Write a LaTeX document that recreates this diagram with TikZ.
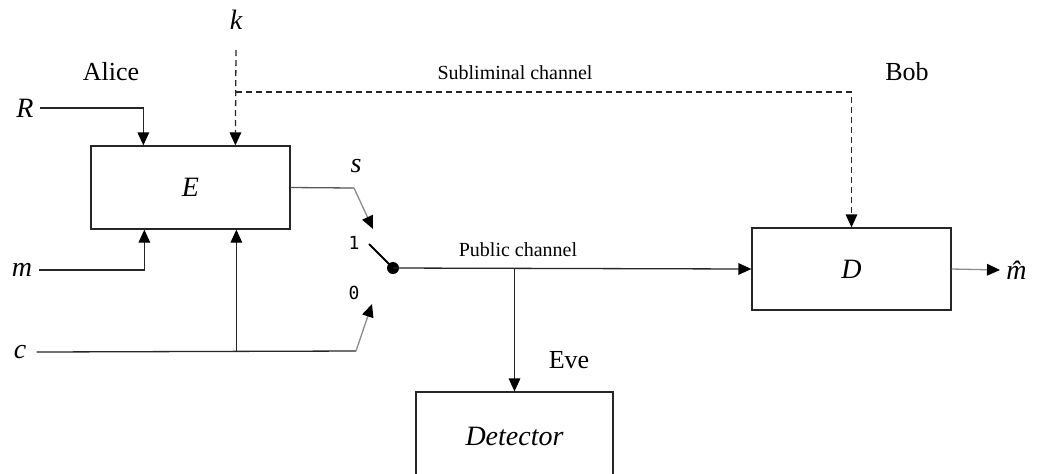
\documentclass[tikz,border=0pt]{standalone}
\usepackage{fontspec}
\setmainfont{Liberation Serif}
\newfontfamily\digitfont{DejaVu Sans Mono}
\usetikzlibrary{arrows.meta}
\begin{document}
\begin{tikzpicture}[x=0.5pt,y=-0.5pt,
  wire/.style={draw=black!85, line width=0.65pt},
  faint/.style={draw=black!45, line width=0.65pt},
  arr/.style={-{Triangle[length=6.5pt,width=5.8pt,color=black]}},
  blockbox/.style={draw=black!85, line width=0.65pt, minimum width=99.5pt, inner sep=0pt},
  mathlbl/.style={font=\fontsize{14}{16}\selectfont\itshape, inner sep=0pt},
  personlbl/.style={font=\fontsize{13}{15}\selectfont, inner sep=0pt},
  chanlbl/.style={font=\fontsize{10}{12}\selectfont, inner sep=0pt},
  contactlbl/.style={font=\fontsize{9}{11}\selectfont\digitfont, inner sep=0pt},
  dashline/.style={dash pattern=on 3pt off 2pt}]
\clip (0,0) rectangle (1042,473);
\fill[white] (0,0) rectangle (1042,473);

% processing blocks
\node[blockbox, minimum height=41.5pt, mathlbl] (E) at (190.5,187.5) {E};
\node[blockbox, minimum height=41pt, mathlbl] (D) at (851.5,269) {D};
\node[blockbox, minimum width=98.5pt, minimum height=44pt, mathlbl] (Det) at (514.5,436) {Detector};

% inputs and output
\node[mathlbl] (R) at (25,108) {R};
\node[mathlbl] (k) at (236,20) {k};
\node[mathlbl] (m) at (22,270) {m};
\node[mathlbl] (c) at (20,352) {c};
\node[mathlbl] (s) at (356,166) {s};
\node[mathlbl, anchor=west] (mh) at (1006,270) {\^{m}};

% party and channel names
\node[personlbl] (alice) at (111,72) {Alice};
\node[personlbl] (bob) at (907,72) {Bob};
\node[personlbl] (eve) at (569,360) {Eve};
\node[chanlbl] (sub) at (515,73) {Subliminal channel};
\node[chanlbl] (pub) at (518,250) {Public channel};

% switch contacts
\node[contactlbl] (one) at (354,243) {1};
\node[contactlbl] (zero) at (354,293) {0};
\node[circle, fill=black, inner sep=0pt, minimum size=6pt] (dot) at (393,268) {};
\coordinate (blade) at (369,244);
\coordinate (sbend) at (354,188);
\coordinate (stip) at (373,229);
\coordinate (cbend) at (356,351);
\coordinate (ctip) at (372,304);
\coordinate (kbend) at (236,92);

% inputs of E
\coordinate (rin) at ([xshift=26.5pt]E.north west);
\coordinate (kin) at ([xshift=72.5pt]E.north west);
\coordinate (min) at ([xshift=27pt]E.south west);
\coordinate (cin) at ([xshift=73pt]E.south west);

\draw[wire, arr] ([xshift=3pt]R.east) -| (rin);
\draw[wire, arr, dashline] ([yshift=-10pt]k.south) -- (kin);
\draw[wire, arr, dashline] (kbend) -| (D.north);
\draw[wire, arr] ([xshift=3pt]m.east) -| (min);
\draw[wire] ([xshift=5pt]c.east) -- (cbend);
\draw[wire, arr] (cin |- cbend) -- (cin);

% switch
\draw[draw=black!65, line width=0.65pt] (E.east) -- (sbend);
\draw[faint, arr] (sbend) -- (stip);
\draw[faint, arr] (cbend) -- (ctip);
\draw[black, line width=1pt] (blade) -- (dot.center);

% public channel and eavesdropper
\draw[wire, arr] (dot.center) -- (D.west);
\draw[wire, arr] (dot.center -| Det.north) -- (Det.north);

% decoder output
\draw[faint, arr] (D.east) -- ([xshift=-3pt]mh.west);
\end{tikzpicture}
\end{document}
